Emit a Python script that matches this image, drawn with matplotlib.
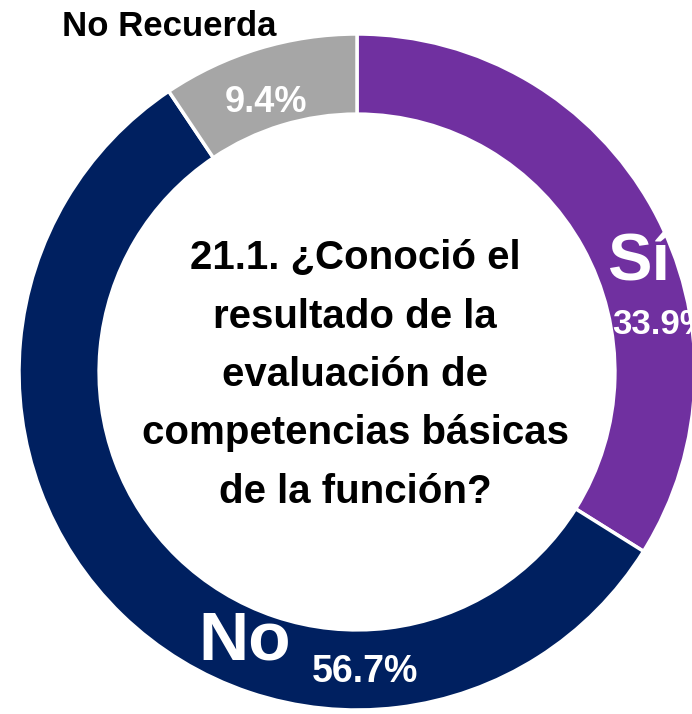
import matplotlib
matplotlib.use('Agg')
import matplotlib.pyplot as plt

# ---- data ----
labels = ['Sí', 'No', 'No Recuerda']
values = [33.9, 56.7, 9.4]
pct_labels = ['33.9%', '56.7%', '9.4%']
colors = ['#7030A0', '#002060', '#A6A6A6']
title = '21.1. ¿Conoció el\nresultado de la\nevaluación de\ncompetencias básicas\nde la función?'

plt.rcParams['font.family'] = ['Liberation Sans', 'DejaVu Sans']

W, H = 692, 714
fig = plt.figure(figsize=(W / 100, H / 100), dpi=100)

# donut centre (px from left/top) and radius
cx, cy, R = 357, 372, 338
ax = fig.add_axes([(cx - R) / W, (H - cy - R) / H, 2 * R / W, 2 * R / H])
ax.pie(values, colors=colors, startangle=90, counterclock=False, radius=1,
       wedgeprops=dict(width=0.237, edgecolor='white', linewidth=2.5))
ax.set_xlim(-1, 1)
ax.set_ylim(-1, 1)
ax.set_aspect('equal')
ax.axis('off')

def px(x, y):
    return (x - cx) / R, (cy - y) / R

# category names
ax.text(*px(639, 262), labels[0], color='white', fontsize=48, fontweight='bold',
        ha='center', va='center')
ax.text(*px(245, 642), labels[1], color='white', fontsize=50, fontweight='bold',
        ha='center', va='center')
ax.text(*px(62, 27), labels[2], color='black', fontsize=25, fontweight='bold',
        ha='left', va='center')

# percentages (the 'Sí' value runs off the right edge, as in the original)
ax.text(*px(612, 325), pct_labels[0], color='white', fontsize=25, fontweight='bold',
        ha='left', va='center')
ax.text(*px(365, 672), pct_labels[1], color='white', fontsize=27, fontweight='bold',
        ha='center', va='center')
ax.text(*px(266, 103), pct_labels[2], color='white', fontsize=26, fontweight='bold',
        ha='center', va='center')

# centre question
ax.text(*px(355, 375), title, color='black', fontsize=29, fontweight='bold',
        ha='center', va='center', linespacing=1.68)

fig.savefig('out.png', dpi=100)
